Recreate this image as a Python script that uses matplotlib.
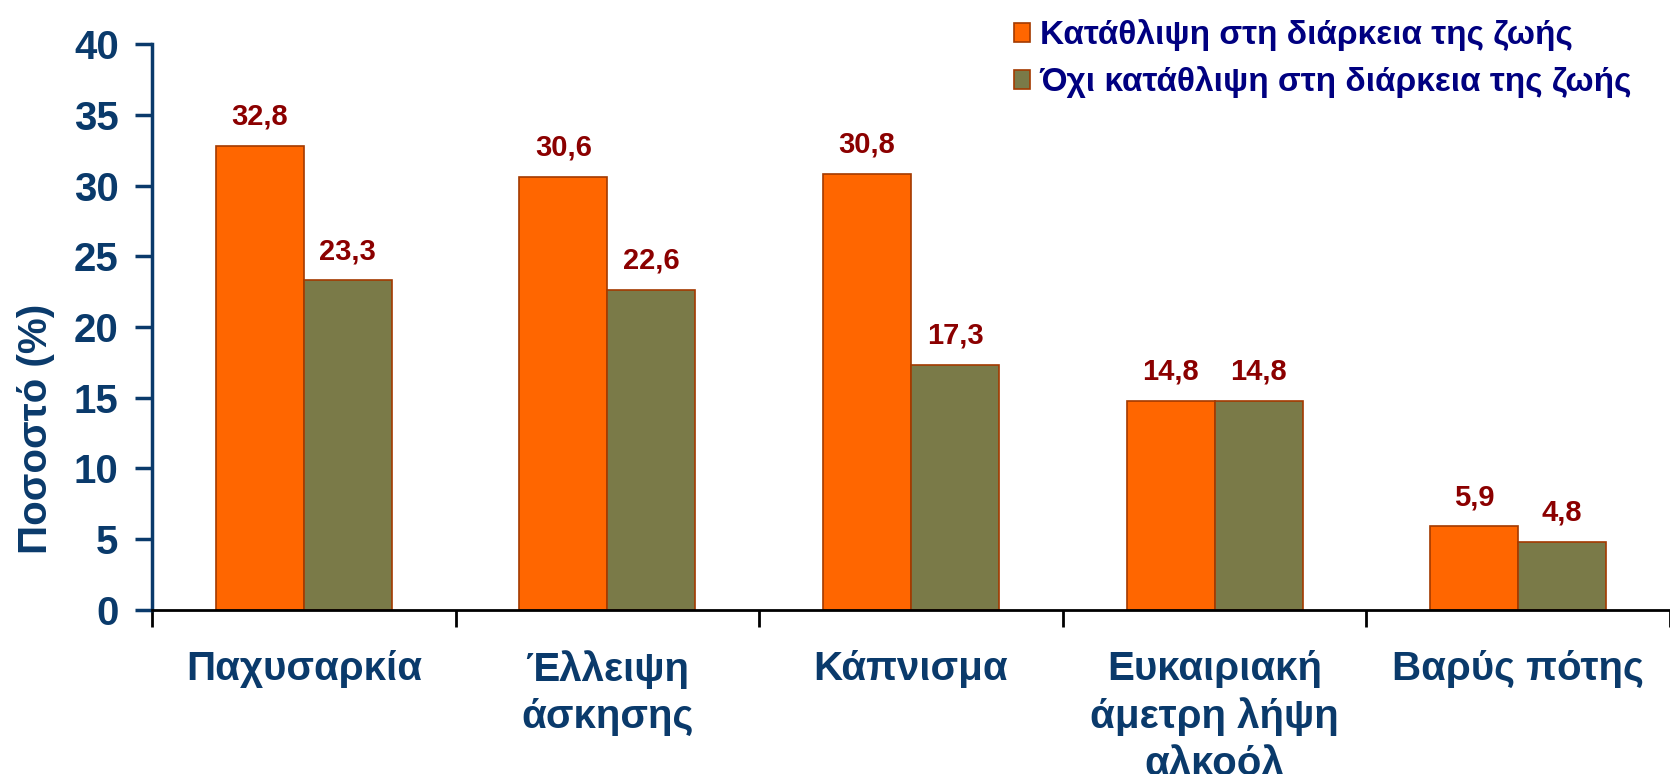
import numpy as np
import matplotlib
matplotlib.use('Agg')
import matplotlib.pyplot as plt

plt.rcParams['font.family'] = ['Liberation Sans', 'DejaVu Sans']
plt.rcParams['font.weight'] = 'bold'

categories = ['Παχυσαρκία', 'Έλλειψη\nάσκησης', 'Κάπνισμα',
              'Ευκαιριακή\nάμετρη λήψη\nαλκοόλ', 'Βαρύς πότης']
depression = [32.8, 30.6, 30.8, 14.8, 5.9]
no_depression = [23.3, 22.6, 17.3, 14.8, 4.8]
series_names = ['Κατάθλιψη στη διάρκεια της ζωής',
                'Όχι κατάθλιψη στη διάρκεια της ζωής']

blue = '#0A3A6B'
fig = plt.figure(figsize=(16.7, 7.74), dpi=100)
ax = fig.add_axes([0.091, 0.212, 0.909, 0.731])

x = np.arange(len(categories))
w = 0.29
b1 = ax.bar(x - w/2, depression, w, color='#FF6600', edgecolor='#A33A00', linewidth=1.2,
            label=series_names[0])
b2 = ax.bar(x + w/2, no_depression, w, color='#7A7A48', edgecolor='#A33A00', linewidth=1.2,
            label=series_names[1])

for bars, vals in [(b1, depression), (b2, no_depression)]:
    for r, v in zip(bars, vals):
        ax.annotate(('%.1f' % v).replace('.', ','), (r.get_x() + r.get_width()/2, v),
                    xytext=(0, 11), textcoords='offset points', ha='center', va='bottom',
                    fontsize=21, color='#8B0000', fontweight='bold')

ax.set_xlim(-0.5, len(categories) - 0.5)
ax.set_ylim(0, 40)
ax.set_yticks(range(0, 41, 5))
ax.set_xticks(np.arange(len(categories) + 1) - 0.5, minor=False)
ax.set_xticklabels([])
ax.set_xticks(x, minor=True)
ax.set_xticklabels(categories, minor=True, fontsize=29, color=blue, fontweight='bold',
                   linespacing=1.3, va='top')
ax.tick_params(axis='x', which='minor', length=0, pad=29)
ax.tick_params(axis='x', which='major', length=12, width=2, color='black', direction='out')
ax.tick_params(axis='y', length=12, width=2.5, color=blue, labelcolor=blue, labelsize=29, pad=12)
for lab in ax.get_yticklabels():
    lab.set_fontweight('bold')

ax.spines['top'].set_visible(False)
ax.spines['right'].set_visible(False)
ax.spines['left'].set_color(blue)
ax.spines['left'].set_linewidth(2.5)
ax.spines['bottom'].set_color('black')
ax.spines['bottom'].set_linewidth(2)

ax.set_ylabel('Ποσοστό (%)', fontsize=29, color=blue, fontweight='bold')
ax.yaxis.set_label_coords(-0.064, 0.32)

fig.legend(loc='upper left', bbox_to_anchor=(0.589, 1.014), frameon=False,
           prop={'size': 24, 'weight': 'bold'}, labelcolor='#000080',
           handlelength=0.48, handleheight=0.48, handletextpad=0.3, labelspacing=0.45)

fig.savefig('out.png', dpi=100)
